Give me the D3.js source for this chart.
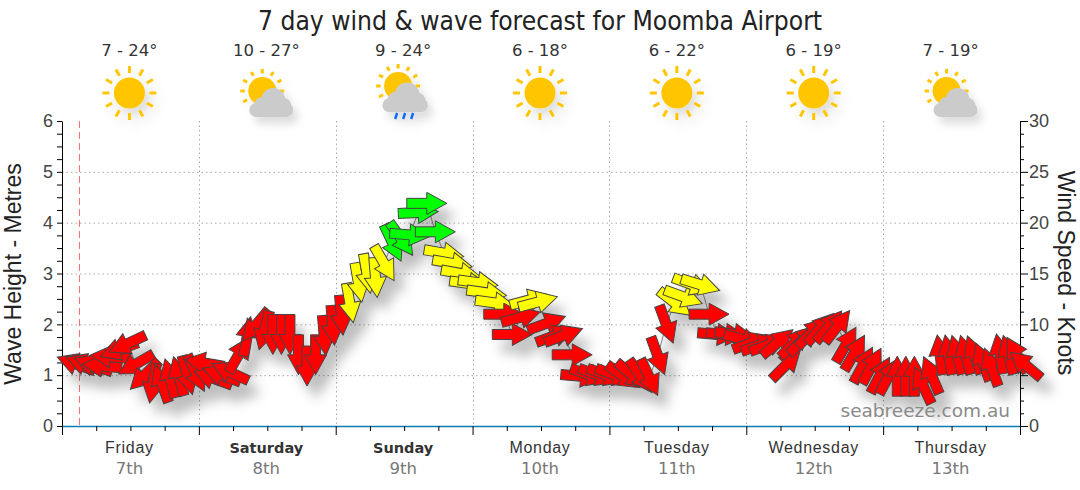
<!DOCTYPE html>
<html>
<head>
<meta charset="utf-8">
<script src="https://cdn.jsdelivr.net/npm/d3@7"></script>
<style>
  html, body { margin: 0; padding: 0; background: #fff; }
  svg { display: block; }
  text { font-family: "DejaVu Sans", sans-serif; }
</style>
</head>
<body>
<svg id="chart" width="1080" height="490"></svg>
<script>
const titleText = '7 day wind & wave forecast for Moomba Airport';
const dayNames = ['Friday', 'Saturday', 'Sunday', 'Monday', 'Tuesday', 'Wednesday', 'Thursday'];
const dayDates = ['7th', '8th', '9th', '10th', '11th', '12th', '13th'];
const boldDays = ['Saturday', 'Sunday'];
const temps = ['7 - 24°', '10 - 27°', '9 - 24°', '6 - 18°', '6 - 22°', '6 - 19°', '7 - 19°'];
const icons = ['sun', 'cloud', 'rain', 'sun', 'sun', 'sun', 'cloud'];

// Wind speed in knots, one reading every 1.5 hours from 3am Friday
const windSpeed = [
  6.1, 6.1, 6.0, 5.9, 6.8, 7.5, 8.1, 6.1, 5.0, 4.2, 4.2, 4.7, 4.9, 5.0,
  5.2, 6.2, 4.7, 5.0, 5.3, 7.0, 8.8, 9.9, 9.4, 9.0, 9.0, 9.0, 7.0, 5.9,
  7.0, 8.9, 9.9, 10.9, 12.1, 14.1, 15.0, 14.6, 16.0, 18.0, 18.4, 18.8, 21.0, 21.9,
  19.1, 17.0, 16.0, 15.0, 14.0, 14.1, 13.1, 12.1, 11.0, 9.0, 10.7, 12.4, 12.2, 10.1,
  8.9, 8.9, 7.0, 4.9, 5.0, 5.0, 5.0, 5.0, 4.9, 5.0, 4.9, 4.8, 6.9, 10.0,
  12.1, 12.7, 13.9, 13.9, 11.0, 9.0, 9.0, 9.0, 8.5, 8.2, 8.0, 8.0, 8.2, 6.0,
  8.2, 8.5, 9.2, 9.6, 9.8, 9.8, 8.0, 7.2, 6.0, 5.9, 5.0, 4.9, 4.9, 4.9,
  4.9, 4.0, 5.0, 7.0, 7.0, 7.0, 7.0, 7.0, 6.3, 5.8, 7.1, 7.0, 7.0, 6.0
];
// Direction each arrow points, degrees clockwise from east
const windAngle = [
  200, 200, 200, 185, 185, 160, 155, 150, 135, 100, -110, -105, -105, 75,
  65, 190, 200, 200, 205, -60, -80, 130, 105, 90, 90, 90, 90, 90,
  90, 85, 85, 85, 80, 80, 80, 85, 60, 65, 55, 5, -3, 0,
  0, 10, 10, 10, 8, 8, 8, 8, 0, 0, -15, -15, -15, -20,
  -20, -20, 0, 5, 20, 20, 20, 20, 35, 40, 55, 65, 70, 70,
  38, 20, 20, 17, 0, 5, 5, 8, 15, -20, -20, -20, -40, -45,
  -45, -45, -45, -48, -50, -52, -60, -60, -62, -62, -62, -62, -90, -90,
  -90, -115, -113, -98, -100, -105, -105, -110, -110, -110, -100, -105, -120, -140
];

const left = 62, right = 1020, top_ = 121, bottom = 426;
const arial = '"Liberation Sans", sans-serif';

const x = d3.scaleLinear().domain([0, 168]).range([left, right]);
const yWave = d3.scaleLinear().domain([0, 6]).range([bottom, top_]);
const yWind = d3.scaleLinear().domain([0, 30]).range([bottom, top_]);
const windColor = d3.scaleThreshold().domain([12, 17.5]).range(['#ff0000', '#ffff00', '#00ff00']);

const svg = d3.select('#chart');

const defs = svg.append('defs');
defs.append('filter').attr('id', 'arrowShadow')
  .attr('x', '-10%').attr('y', '-10%').attr('width', '120%').attr('height', '130%')
  .append('feDropShadow')
  .attr('dx', 9).attr('dy', 13).attr('stdDeviation', 6)
  .attr('flood-color', '#000').attr('flood-opacity', 0.25);
defs.append('filter').attr('id', 'iconShadow')
  .attr('x', '-30%').attr('y', '-30%').attr('width', '170%').attr('height', '170%')
  .append('feDropShadow')
  .attr('dx', 5).attr('dy', 7).attr('stdDeviation', 4)
  .attr('flood-color', '#000').attr('flood-opacity', 0.13);

// Grid
const grid = svg.append('g').attr('stroke', '#aaa').attr('stroke-dasharray', '1.5 3');
grid.selectAll('.gy').data(d3.range(1, 6)).join('line')
  .attr('x1', left).attr('x2', right)
  .attr('y1', d => yWave(d) + 0.5).attr('y2', d => yWave(d) + 0.5);
grid.selectAll('.gx').data(d3.range(1, 7)).join('line')
  .attr('x1', d => Math.round(x(d * 24)) + 0.5).attr('x2', d => Math.round(x(d * 24)) + 0.5)
  .attr('y1', top_).attr('y2', bottom);

// "Now" marker
svg.append('line')
  .attr('x1', Math.round(x(3)) + 0.5).attr('x2', Math.round(x(3)) + 0.5)
  .attr('y1', top_).attr('y2', bottom)
  .attr('stroke', '#ff7070').attr('stroke-dasharray', '7 4');

// Axes
function styleAxis(g) {
  g.selectAll('.domain').attr('stroke', '#000');
  g.selectAll('.tick line').attr('stroke', '#000');
  g.selectAll('.tick text').attr('fill', '#444')
    .style('font-family', arial).style('font-size', '18px');
}
const leftAxis = svg.append('g').attr('transform', `translate(${left},0)`)
  .call(d3.axisLeft(yWave).tickValues(d3.range(0, 6.01, 0.25)).tickSize(5).tickSizeOuter(0)
    .tickFormat(d => Number.isInteger(d) ? d : ''))
  .call(styleAxis);
leftAxis.selectAll('.tick text').attr('x', -9);

const rightAxis = svg.append('g').attr('transform', `translate(${right},0)`)
  .call(d3.axisRight(yWind).tickValues(d3.range(0, 30.01, 1.25)).tickSize(4).tickSizeOuter(0)
    .tickFormat(d => (d % 5 === 0 && d !== 5) ? d : ''))
  .call(styleAxis);
rightAxis.selectAll('.tick text').attr('x', 9);
rightAxis.selectAll('.tick line').attr('x2', d => d % 5 === 0 ? 8 : 4);

const bottomAxis = svg.append('g').attr('transform', `translate(0,${bottom})`)
  .call(d3.axisBottom(x).tickValues(d3.range(0, 168.01, 6)).tickSize(5).tickSizeOuter(0).tickFormat(''))
  .call(styleAxis);
bottomAxis.selectAll('.tick line').attr('y2', d => d % 24 === 0 ? 9 : 5);
bottomAxis.select('.domain').attr('stroke', '#0a7db8').attr('stroke-width', 1.5);

// Day labels
const days = svg.append('g').selectAll('g').data(dayNames).join('g')
  .attr('transform', (d, i) => `translate(${x(i * 24 + 12) - 1},0)`)
  .attr('text-anchor', 'middle');
days.append('text').attr('y', 453)
  .attr('fill', '#333')
  .style('font-family', d => boldDays.includes(d) ? '"DejaVu Sans", sans-serif' : arial)
  .style('font-size', d => boldDays.includes(d) ? '14.5px' : '16px')
  .style('letter-spacing', d => boldDays.includes(d) ? '0' : '0.7px')
  .style('font-weight', d => boldDays.includes(d) ? 'bold' : 'normal')
  .text(d => d);
days.append('text').attr('y', 474)
  .attr('fill', '#777').style('font-size', '16.5px')
  .text((d, i) => dayDates[i]);
days.append('text').attr('y', 56)
  .attr('fill', '#333').style('font-size', '16.5px')
  .text((d, i) => temps[i]);

// Weather icons
function drawSun(g, cx, cy, r, r0, r1, w) {
  g.append('g').selectAll('line').data(d3.range(12)).join('line')
    .attr('x1', d => cx + r0 * Math.cos(d * Math.PI / 6)).attr('y1', d => cy + r0 * Math.sin(d * Math.PI / 6))
    .attr('x2', d => cx + r1 * Math.cos(d * Math.PI / 6)).attr('y2', d => cy + r1 * Math.sin(d * Math.PI / 6))
    .attr('stroke', '#ffc500').attr('stroke-width', w);
  g.append('circle').attr('cx', cx).attr('cy', cy).attr('r', r).attr('fill', '#ffc500');
}
function drawCloud(g, cx, cy, s) {
  const c = g.append('g').attr('fill', '#cbcbcb').attr('transform', `translate(${cx},${cy}) scale(${s})`);
  c.append('rect').attr('x', -22).attr('y', -2).attr('width', 44).attr('height', 14).attr('rx', 7);
  c.append('circle').attr('cx', 2).attr('cy', -5).attr('r', 12);
  c.append('circle').attr('cx', -9).attr('cy', 0).attr('r', 8);
  c.append('circle').attr('cx', 12).attr('cy', 1).attr('r', 8);
}
icons.forEach((kind, i) => {
  const cx = x(i * 24 + 12) - 1;
  const g = svg.append('g').attr('filter', 'url(#iconShadow)');
  if (kind === 'sun') {
    drawSun(g, cx, 93, 15.5, 20, 27, 3);
  } else if (kind === 'cloud') {
    drawSun(g, cx - 4, 91, 14, 17.5, 22, 3);
    drawCloud(g, cx + 5, 105, 1);
  } else {
    drawSun(g, cx - 5, 86, 14, 17.5, 22, 3);
    drawCloud(g, cx + 2, 100, 1.03);
    g.append('g').selectAll('line').data([-8, 0, 8]).join('line')
      .attr('x1', d => cx + 2 + d).attr('y1', 113).attr('x2', d => cx + d).attr('y2', 119)
      .attr('stroke', '#0a68ff').attr('stroke-width', 2.4);
  }
});

// Wind: arrows sit 3px left of their reading
const points = windSpeed.map((v, i) => ({ hour: (i + 2) * 1.5, speed: v, angle: windAngle[i] }));
const px = d => x(d.hour) - 3;

svg.append('path').datum(points)
  .attr('fill', 'none').attr('stroke', '#888').attr('stroke-width', 1)
  .attr('d', d3.line().x(px).y(d => yWind(d.speed)));

const arrowShape = [[-20, -5], [0, -5], [0, -11], [20, 0], [0, 11], [0, 5], [-20, 5]];
const arrowPath = d3.line()(arrowShape) + 'Z';

svg.append('g').attr('filter', 'url(#arrowShadow)')
  .selectAll('path').data(points).join('path')
  .attr('d', arrowPath)
  .attr('transform', d => `translate(${px(d)},${yWind(d.speed)}) rotate(${d.angle})`)
  .attr('fill', d => windColor(d.speed))
  .attr('stroke', '#444').attr('stroke-width', 1).attr('stroke-linejoin', 'miter');

// Watermark
svg.append('text').attr('x', 1010).attr('y', 417).attr('text-anchor', 'end')
  .attr('fill', '#8a8a8a').style('font-size', '18.5px').text('seabreeze.com.au');

// Titles
svg.append('text').attr('x', 540).attr('y', 30).attr('text-anchor', 'middle')
  .attr('fill', '#222').style('font-family', '"DejaVu Sans Condensed", "DejaVu Sans", sans-serif')
  .style('font-stretch', 'condensed').style('font-size', '26.2px').text(titleText);
svg.append('text').attr('transform', 'translate(21,274) rotate(-90)').attr('text-anchor', 'middle')
  .attr('fill', '#222').style('font-family', arial).style('font-size', '23px')
  .text('Wave Height - Metres');
svg.append('text').attr('transform', 'translate(1058,273) rotate(90)').attr('text-anchor', 'middle')
  .attr('fill', '#222').style('font-family', arial).style('font-size', '23px')
  .text('Wind Speed - Knots');
</script>
</body>
</html>
